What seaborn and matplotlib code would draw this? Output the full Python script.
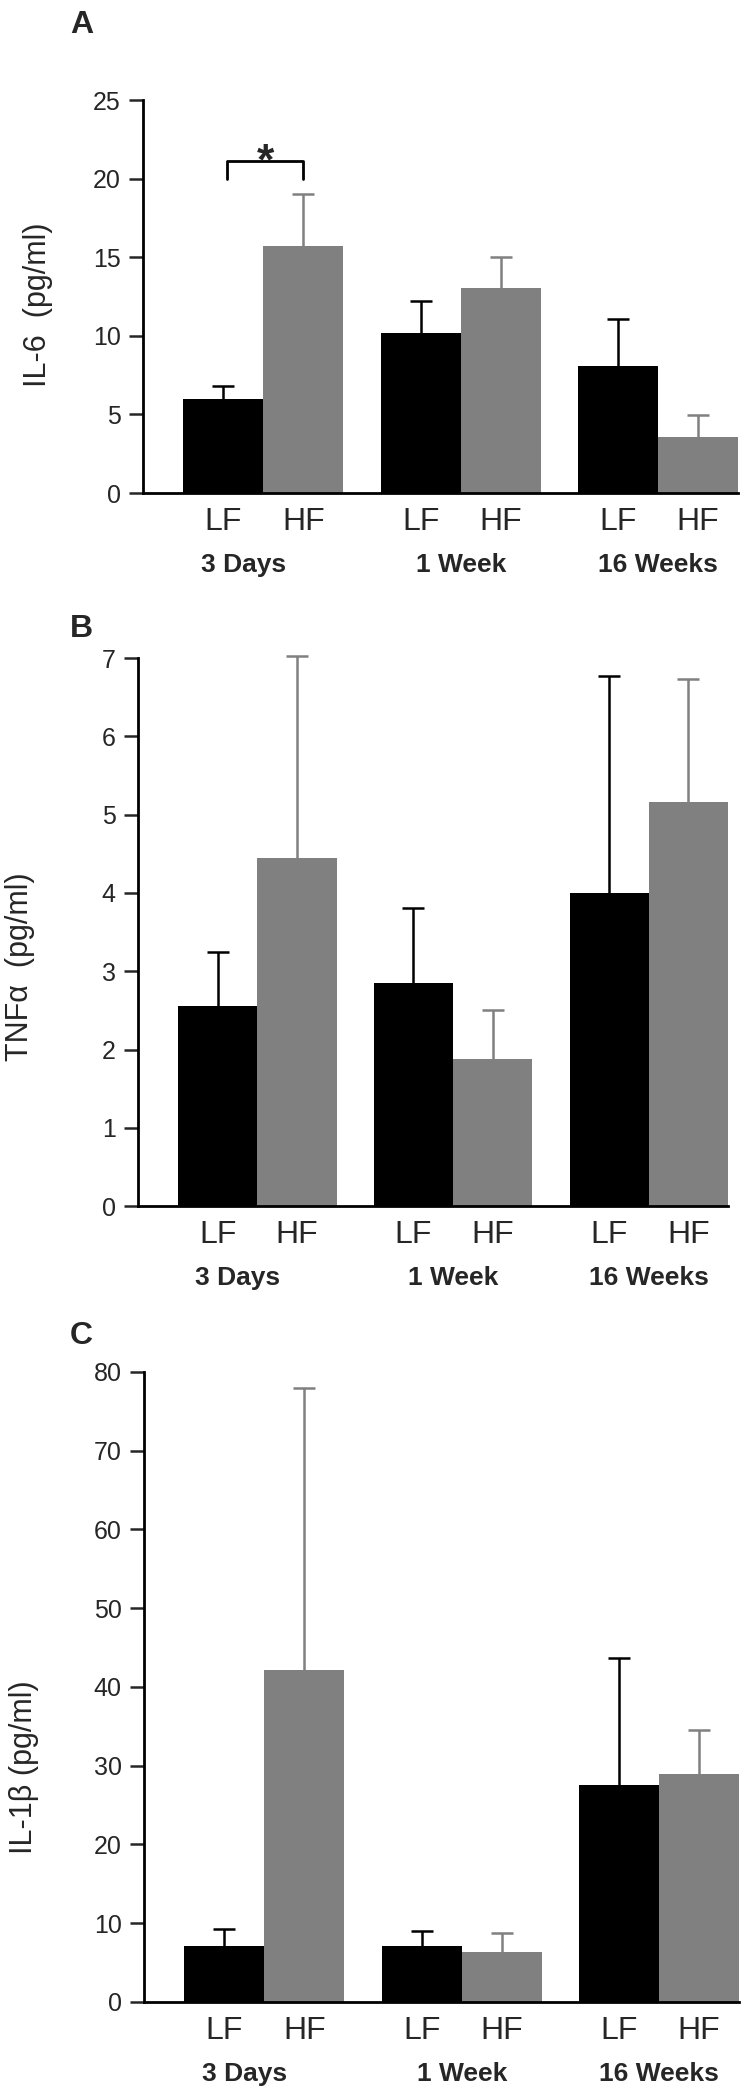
import numpy as np
import pandas as pd
import seaborn as sns
import matplotlib.pyplot as plt

# groups and diets
times = ['3 Days', '1 Week', '16 Weeks']
diets = ['LF', 'HF']

# IL-6 (pg/ml), mean and upward SEM
il6_lf = [6.0, 10.2, 8.1]
il6_lf_sem = [0.8, 2.0, 3.0]
il6_hf = [15.75, 13.05, 3.55]
il6_hf_sem = [3.3, 1.95, 1.4]

# TNFa (pg/ml)
tnf_lf = [2.55, 2.85, 4.0]
tnf_lf_sem = [0.69, 0.96, 2.77]
tnf_hf = [4.45, 1.88, 5.16]
tnf_hf_sem = [2.57, 0.62, 1.57]

# IL-1b (pg/ml)
il1b_lf = [7.05, 7.05, 27.5]
il1b_lf_sem = [2.25, 2.0, 16.2]
il1b_hf = [42.1, 6.4, 29.0]
il1b_hf_sem = [35.9, 2.3, 5.5]

sns.set_style('white')
plt.rcParams['font.family'] = ['Liberation Sans', 'DejaVu Sans']

colors = {'LF': '#000000', 'HF': '#808080'}

fig = plt.figure(figsize=(7.46, 20.91), dpi=100)

panels = [
    # letter, axes rect, y label, data, ymax, ystep, label coords, letter y
    ('A', [0.1917, 0.7642, 0.7976, 0.1879], 'IL-6  (pg/ml)',
     (il6_lf, il6_lf_sem, il6_hf, il6_hf_sem), 25, 5, (-0.151, 0.48), 0.9842),
    ('B', [0.1850, 0.4232, 0.7909, 0.2621], 'TNF\u03b1  (pg/ml)',
     (tnf_lf, tnf_lf_sem, tnf_hf, tnf_hf_sem), 7, 1, (-0.175, 0.436), 0.6954),
    ('C', [0.1930, 0.0426, 0.7976, 0.3013], 'IL-1\u03b2 (pg/ml)',
     (il1b_lf, il1b_lf_sem, il1b_hf, il1b_hf_sem), 80, 10, (-0.177, 0.373), 0.3572),
]

for letter, rect, ylab, (lf, lf_sem, hf, hf_sem), ymax, ystep, lab_xy, let_y in panels:
    ax = fig.add_axes(rect)
    df = pd.DataFrame({
        'time': times * 2,
        'diet': ['LF'] * len(times) + ['HF'] * len(times),
        'value': lf + hf,
    })
    sns.barplot(data=df, x='time', y='value', hue='diet', order=times,
                hue_order=diets, palette=colors, errorbar=None, width=0.81,
                saturation=1, legend=False, linewidth=0, ax=ax)

    centers = []
    for cont, sem, d in zip(ax.containers, [lf_sem, hf_sem], diets):
        xs = [p.get_x() + p.get_width() / 2 for p in cont]
        ys = [p.get_height() for p in cont]
        centers.append(xs)
        eb = ax.errorbar(xs, ys, yerr=[np.zeros(len(sem)), sem], fmt='none',
                         ecolor=colors[d], elinewidth=1.8, capsize=8,
                         capthick=1.8, zorder=3, clip_on=False)
        # only the upper cap is shown
        eb[1][0].set_visible(False)
        for art in eb[1] + eb[2]:
            art.set_clip_on(False)

    # tick labels LF / HF under every bar
    ticks, labels = [], []
    for i in range(len(times)):
        for j, d in enumerate(diets):
            ticks.append(centers[j][i])
            labels.append(d)
    ax.set_xticks(ticks, labels)
    ax.tick_params(axis='x', length=0, pad=10, labelsize=23)
    ax.tick_params(axis='y', length=10, width=1.8, pad=6, labelsize=18,
                   direction='out', left=True)

    for i, t in enumerate(times):
        shift = -0.1 if i == 0 else 0.0
        ax.annotate(t, xy=(i + shift, 0), xycoords=('data', 'axes fraction'),
                    xytext=(0, -57), textcoords='offset points', ha='center',
                    va='baseline', fontsize=19, fontweight='bold')

    ax.set_xlim(-0.61, 2.405)
    ax.set_ylim(0, ymax)
    ax.set_yticks(np.arange(0, ymax + ystep / 2, ystep))
    ax.set_xlabel('')
    ax.set_ylabel(ylab, fontsize=22)
    ax.yaxis.set_label_coords(*lab_xy)
    sns.despine(ax=ax)
    for s in ['left', 'bottom']:
        ax.spines[s].set_linewidth(2)
        ax.spines[s].set_color('black')

    fig.text(0.0938, let_y, letter, fontsize=23, fontweight='bold',
             ha='left', va='baseline')

    if letter == 'A':
        # significance bracket between LF and HF at 3 days
        x0, x1 = centers[0][0] + 0.02, centers[1][0]
        ax.plot([x0, x0, x1, x1], [20.0, 21.1, 21.1, 20.0], color='black',
                lw=2, clip_on=False)
        ax.text((x0 + x1) / 2, 20.3, '*', fontsize=32, fontweight='bold',
                ha='center', va='baseline')

fig.savefig('out.png', dpi=100)
